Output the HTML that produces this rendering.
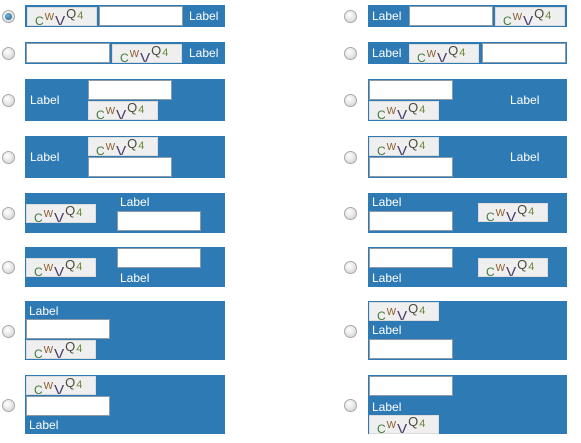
<!DOCTYPE html>
<html><head><meta charset="utf-8">
<style>
html,body{margin:0;padding:0;background:#fff;width:581px;height:443px;overflow:hidden;font-family:"Liberation Sans",sans-serif;}
.p{position:absolute;background:#2e7ab4;}
.r{position:absolute;width:11px;height:11px;border-radius:50%;border:1px solid #a8a8a8;background:radial-gradient(circle at 40% 35%,#fff,#ddd 70%,#c8c8c8);}
.r.on::after{content:"";position:absolute;left:2px;top:2px;width:7px;height:7px;border-radius:50%;background:radial-gradient(circle at 40% 35%,#6fb6d8,#1d5a85);}
.i{position:absolute;background:#fff;border:1px solid #8a9aa8;box-sizing:border-box;width:84px;height:20px;}
.c{position:absolute;width:70px;height:19px;background:#efefef;box-sizing:border-box;border:1px solid #dcdcdc;font-size:13px;line-height:20px;white-space:nowrap;overflow:hidden;padding-left:7px;}
.c span{display:inline-block;margin-right:1px;}
.l{position:absolute;color:#fff;font-size:12px;line-height:14px;}
</style></head><body>
<script>
// [panelX,y,w,h, items...] item: [type,x,y]
var rows=[
 [25,5,200,22,[['c',27,7],['i',99,6],['l',189,9]]],
 [25,42,200,22,[['i',26,43],['c',112,44],['l',189,46]]],
 [25,79,200,42,[['l',30,93],['i',88,80],['c',88,101]]],
 [25,136,200,42,[['l',30,150],['c',88,137],['i',88,157]]],
 [25,193,200,40,[['c',26,204],['l',120,195],['i',117,211]]],
 [25,247,200,40,[['c',26,258],['i',117,248],['l',120,271]]],
 [25,301,200,59,[['l',29,304],['i',26,319],['c',26,340]]],
 [25,375,200,59,[['c',26,376],['i',26,396],['l',29,418]]],
 [368,5,199,22,[['l',372,9],['i',409,6],['c',495,7]]],
 [368,42,199,22,[['l',372,46],['c',409,44],['i',482,43]]],
 [368,79,199,42,[['i',369,80],['c',369,101],['l',510,93]]],
 [368,136,199,42,[['c',369,137],['i',369,157],['l',510,150]]],
 [368,193,199,40,[['l',372,195],['i',369,211],['c',478,203]]],
 [368,247,199,40,[['i',369,248],['l',372,271],['c',478,258]]],
 [368,301,199,59,[['c',369,302],['l',372,323],['i',369,339]]],
 [368,375,199,59,[['i',369,376],['l',372,400],['c',369,415]]]
];
var captchaChars=['C','W','V','Q','4'];
var captchaColors=['#3d7a3a','#8a5a2a','#4a3a6a','#4a4a3a','#6a8a3a'];
var captchaSizes=[12,10,15,13,11];
var captchaOffsets=[3,-2,4,-4,-3];
rows.forEach(function(r,idx){
  var p=document.createElement('div');
  p.className='p';
  
  
  p.style.left=r[0]+'px';p.style.top=r[1]+'px';p.style.width=r[2]+'px';p.style.height=r[3]+'px';
  document.body.appendChild(p);
  var rd=document.createElement('div');
  rd.className='r'+(idx===0?' on':'');
  
  
  rd.style.left=(r[0]<100?2:344)+'px';
  rd.style.top=(r[1]+r[3]/2-6)+'px';
  document.body.appendChild(rd);
  r[4].forEach(function(it){
    var e=document.createElement('div');
    e.style.left=it[1]+'px';e.style.top=it[2]+'px';
    if(it[0]==='i'){
      e.className='i';
      
      
    }else if(it[0]==='l'){
      e.className='l';e.textContent='Label';
      
      
    }else{
      e.className='c';
      
      
      captchaChars.forEach(function(ch,k){
        var s=document.createElement('span');
        s.textContent=ch;
        s.style.color=captchaColors[k];
        s.style.fontSize=captchaSizes[k]+'px';
        s.style.transform='translateY('+captchaOffsets[k]+'px)';
        e.appendChild(s);
      });
    }
    document.body.appendChild(e);
  });
});
</script>
</body></html>
